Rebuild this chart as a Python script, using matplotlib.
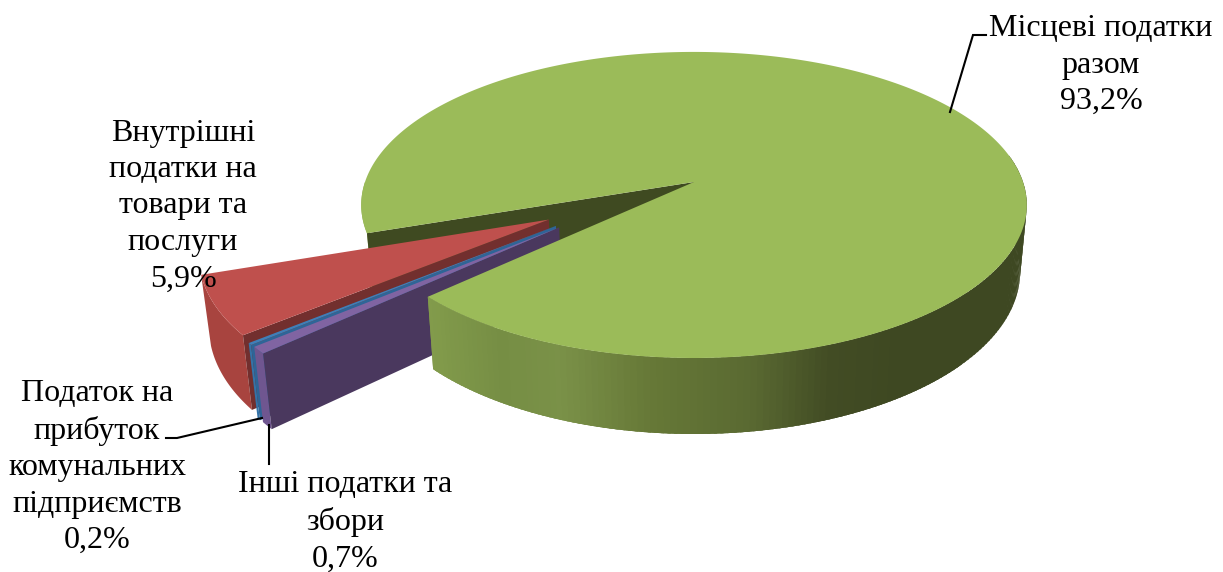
import numpy as np
import matplotlib
matplotlib.use('Agg')
import matplotlib.pyplot as plt
from matplotlib.patches import Polygon

# Data
NAMES = ['Місцеві податки\nразом', 'Інші податки та\nзбори',
         'Податок на\nприбуток\nкомунальних\nпідприємств',
         'Внутрішні\nподатки на\nтовари та\nпослуги']
SHARES = [93.2, 0.7, 0.2, 5.9]

# Geometry of the tilted pie, in pixels of the picture
START_ANGLE = 161.0
CX, CY = 694, 182
RX, RY = 329, 149.6
PERSP = 0.15
BOTTOM_CY = 247.6
BOTTOM_SX, BOTTOM_SY = 0.98, 1.059

# Slice offsets in the plane of the pie
OFFSETS = [(0, 0), (-0.392, 0.29), (-0.402, 0.281), (-0.425, 0.242)]

TOP_COLORS = ['#9BBB59', '#8064A2', '#3F7FB8', '#BF504D']
FACE_COLORS = ['#3F4A21', '#4A385E', '#2E6597', '#722F2E']
WALL_COLORS = ['#8FA954', '#6F5690', '#3473A8', '#A8443F']

LABEL_POS = [(1101, 65), (345, 522), (97, 467), (183, 206)]
LEADERS = [([950, 973, 986], [112, 35, 35]),
           ([269, 269], [425, 464]),
           ([262, 177, 166], [418, 438, 438])]

# Shade of the green outer wall along x
SHADE_X = [430, 500, 560, 650, 750, 830, 900, 1030]
SHADE_R = [130, 118, 122, 102, 90, 66, 62, 62]
SHADE_G = [155, 142, 145, 120, 106, 76, 72, 72]
SHADE_B = [75, 68, 72, 55, 50, 36, 34, 34]


def project(u, v, bottom=False):
    d = 1 - PERSP * v
    if bottom:
        return CX + BOTTOM_SX * RX * u / d, BOTTOM_CY + BOTTOM_SY * RY * v / d
    return CX + RX * u / d, CY + RY * v / d


def rim(a1, a2, offset, bottom=False):
    t = np.radians(np.linspace(a1, a2, max(int(abs(a2 - a1)) * 2, 2) + 1))
    x, y = project(np.cos(t) + offset[0], np.sin(t) + offset[1], bottom)
    return np.column_stack([x, y])


def tip(offset, bottom=False):
    return np.array(project(offset[0], offset[1], bottom))


def wall(ax, a1, a2, offset, color, zorder):
    pts = np.vstack([rim(a1, a2, offset), rim(a1, a2, offset, True)[::-1]])
    ax.add_patch(Polygon(pts, fc=color, ec='none', zorder=zorder))


def draw_pie(ax):
    spans = np.array(SHARES) * 3.6
    a1 = START_ANGLE + np.concatenate([[0], np.cumsum(spans)[:-1]])
    a2 = a1 + spans
    a1[1:] -= 360
    a2[1:] -= 360

    # back of the green slice, seen through the gap
    off = OFFSETS[0]
    wall(ax, a1[0], 180, off, WALL_COLORS[0], 1)
    back = [tip(off), rim(a1[0], a1[0], off)[0], rim(a1[0], a1[0], off, True)[0], tip(off, True)]
    ax.add_patch(Polygon(back, fc=FACE_COLORS[0], ec='none', zorder=2))

    # pulled out slices, the far one first
    for i in [3, 2, 1]:
        off = OFFSETS[i]
        z = 10 - i + 2
        wall(ax, a1[i], a2[i], off, WALL_COLORS[i], z)
        face = [tip(off), rim(a1[i], a1[i], off)[0], rim(a1[i], a1[i], off, True)[0], tip(off, True)]
        ax.add_patch(Polygon(face, fc=FACE_COLORS[i], ec='none', zorder=z))
        top = np.vstack([tip(off), rim(a1[i], a2[i], off)])
        ax.add_patch(Polygon(top, fc=TOP_COLORS[i], ec='none', zorder=z + 0.5))

    # front wall of the green slice, cut in strips for the shading.
    # drawn from the far end, each strip runs under the next one so no seams show
    off = OFFSETS[0]
    end = a2[0] - 360
    edges = np.arange(end - 147, end, 1.0)
    for k, s in enumerate(edges):
        xm = project(np.cos(np.radians(s + 0.5)), np.sin(np.radians(s + 0.5)))[0]
        col = (np.interp(xm, SHADE_X, SHADE_R) / 255,
               np.interp(xm, SHADE_X, SHADE_G) / 255,
               np.interp(xm, SHADE_X, SHADE_B) / 255)
        wall(ax, s, min(s + 2.5, end) if s > 40 else s + 1.5, off, col, 20 + k * 0.001)

    top = np.vstack([tip(off), rim(a1[0], a2[0], off)])
    ax.add_patch(Polygon(top, fc=TOP_COLORS[0], ec='none', zorder=21))


def main():
    fig = plt.figure(figsize=(12.23, 5.72), dpi=100)
    ax = fig.add_axes([0, 0, 1, 1])
    ax.set_xlim(0, 1223)
    ax.set_ylim(572, 0)
    ax.axis('off')

    draw_pie(ax)

    for xs, ys in LEADERS:
        ax.plot(xs, ys, color='black', lw=1.5, zorder=30, solid_joinstyle='miter')

    for name, share, (x, y) in zip(NAMES, SHARES, LABEL_POS):
        label = f"{name}\n{share:.1f}%".replace('.', ',')
        ax.text(x, y, label, ha='center', va='center', family='Liberation Serif',
                fontsize=23, linespacing=1.34, color='black', zorder=31)

    fig.savefig('out.png', dpi=100)


if __name__ == "__main__":
    main()
